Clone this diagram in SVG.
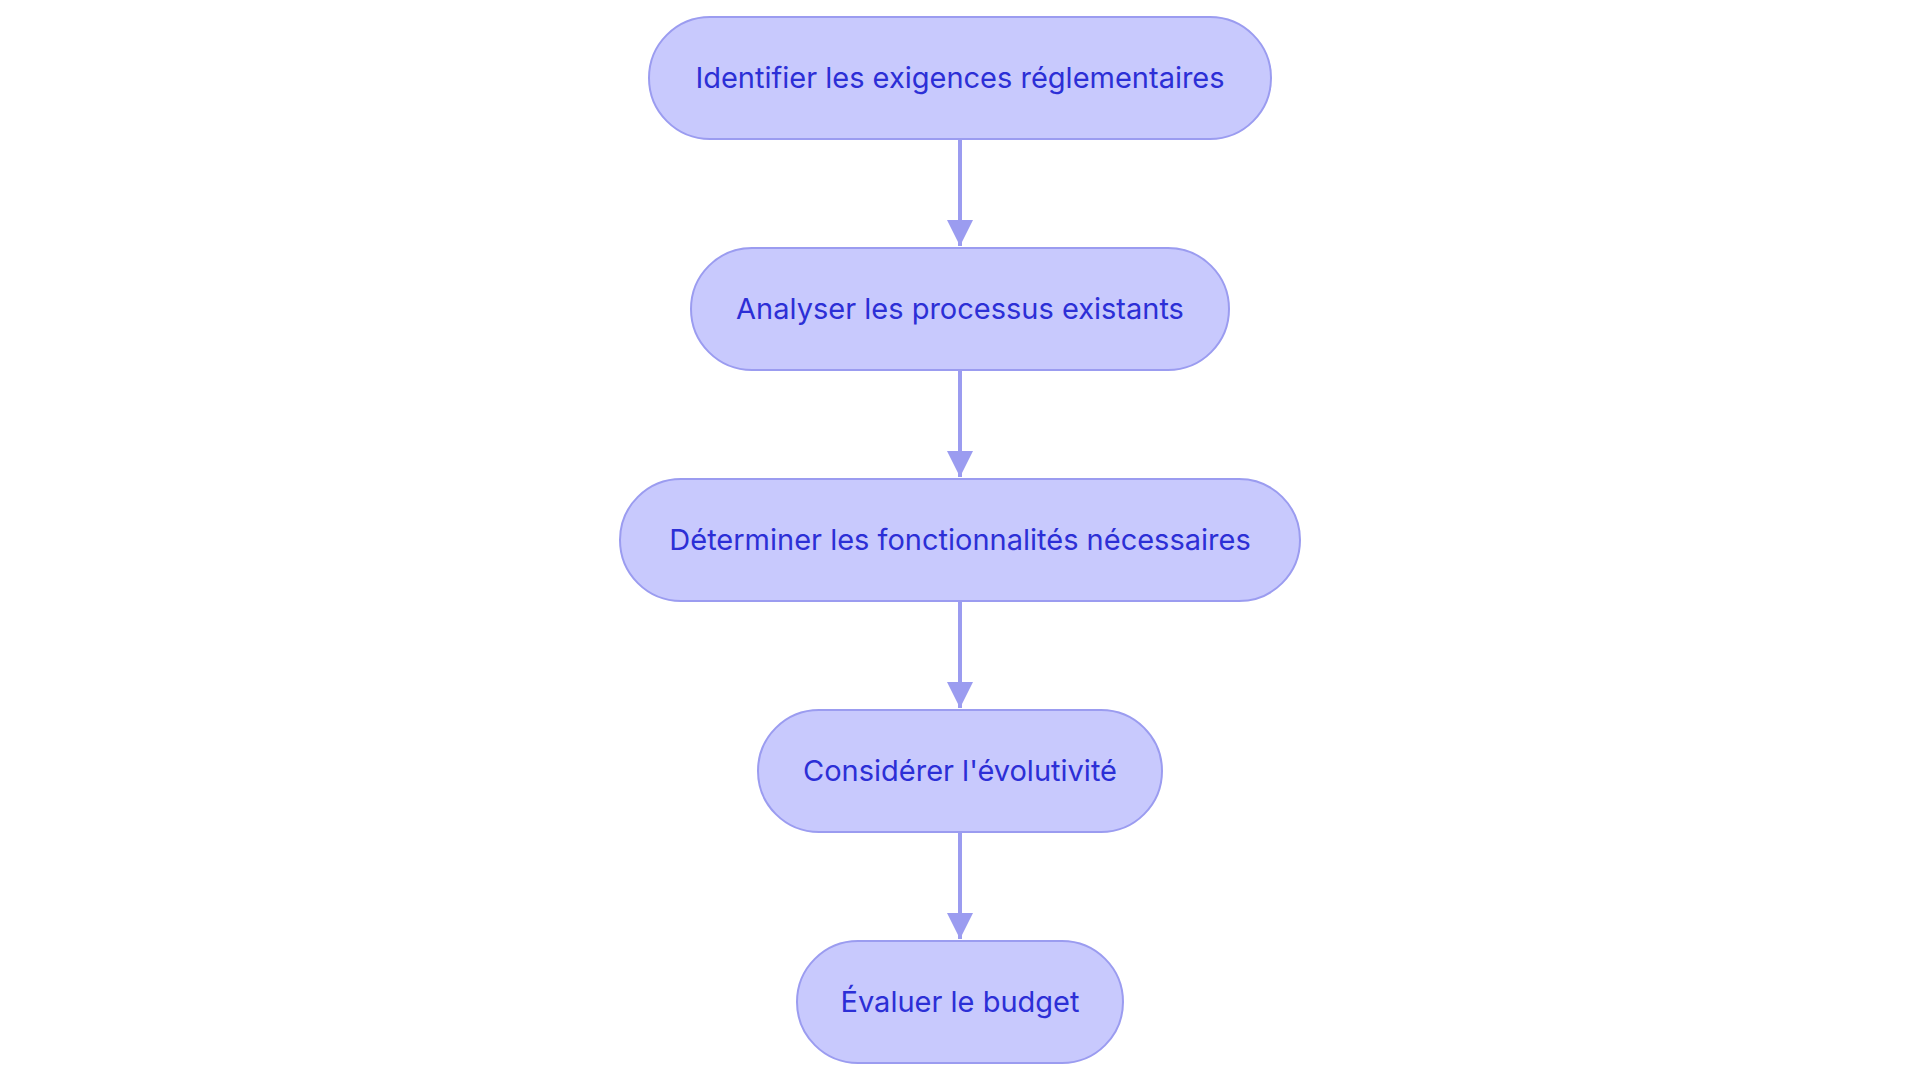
<svg xmlns="http://www.w3.org/2000/svg" width="1920" height="1083" viewBox="0 0 1920 1083">
<style>
.n rect{fill:#c8c9fd;stroke:#9b9cf0;stroke-width:2}
.n text{font-family:Inter,"Liberation Sans",sans-serif;font-size:29px;fill:#2c2fd6;text-anchor:middle;dominant-baseline:central}
.e{stroke:#9b9cf0;stroke-width:4;fill:none;marker-end:url(#a)}
</style>
<defs><marker id="a" viewBox="0 0 10 10" refX="10" refY="5" markerWidth="6.5" markerHeight="6.5" markerUnits="strokeWidth" orient="auto"><path d="M0,0L10,5L0,10z" fill="#9b9cf0"/></marker></defs>
<rect width="1920" height="1083" fill="#fff"/>
<g id="edges">
<line class="e" x1="960" y1="139" x2="960" y2="246"/>
<line class="e" x1="960" y1="370" x2="960" y2="477"/>
<line class="e" x1="960" y1="601" x2="960" y2="708"/>
<line class="e" x1="960" y1="832" x2="960" y2="939"/>
</g>
<g id="n1" class="n"><rect x="649" y="17" width="622" height="122" rx="61"/><text x="960" y="77">Identifier les exigences réglementaires</text></g>
<g id="n2" class="n"><rect x="691" y="248" width="538" height="122" rx="61"/><text x="960" y="308">Analyser les processus existants</text></g>
<g id="n3" class="n"><rect x="620" y="479" width="680" height="122" rx="61"/><text x="960" y="539">Déterminer les fonctionnalités nécessaires</text></g>
<g id="n4" class="n"><rect x="758" y="710" width="404" height="122" rx="61"/><text x="960" y="770">Considérer l'évolutivité</text></g>
<g id="n5" class="n"><rect x="797" y="941" width="326" height="122" rx="61"/><text x="960" y="1001">Évaluer le budget</text></g>
</svg>
